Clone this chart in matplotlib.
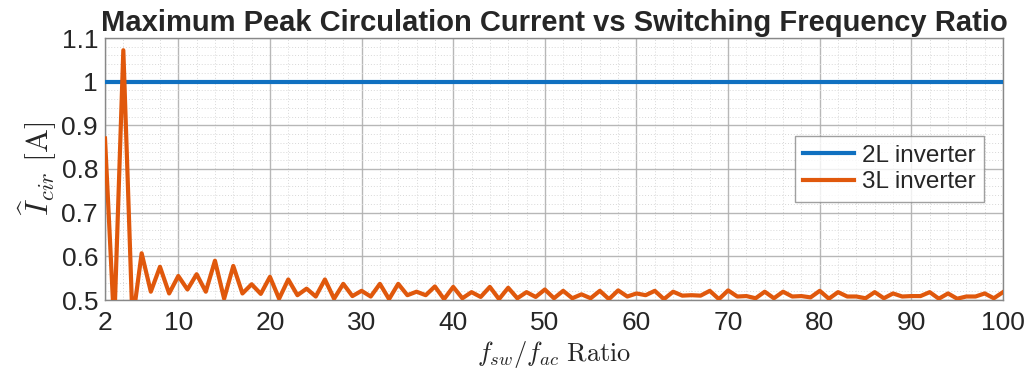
import numpy as np
import matplotlib
matplotlib.use("Agg")
import matplotlib.pyplot as plt
from matplotlib.ticker import MultipleLocator, FixedLocator

# ---- data ----
ratio = np.arange(2, 101)
i_2l = np.full(ratio.shape, 1.0)
i_3l = np.array([
    0.870, 0.440, 1.072, 0.450, 0.607, 0.519, 0.576, 0.515, 0.555, 0.524,   # 2-11
    0.559, 0.519, 0.590, 0.503, 0.578, 0.515, 0.536, 0.514, 0.553, 0.503,   # 12-21
    0.547, 0.511, 0.526, 0.508, 0.547, 0.503, 0.537, 0.509, 0.521, 0.508,   # 22-31
    0.537, 0.502, 0.537, 0.511, 0.519, 0.511, 0.531, 0.502, 0.530, 0.504,   # 32-41
    0.518, 0.507, 0.530, 0.502, 0.528, 0.504, 0.518, 0.507, 0.524, 0.504,   # 42-51
    0.521, 0.504, 0.513, 0.504, 0.521, 0.502, 0.522, 0.508, 0.515, 0.511,   # 52-61
    0.521, 0.502, 0.519, 0.510, 0.511, 0.510, 0.521, 0.502, 0.522, 0.508,   # 62-71
    0.509, 0.504, 0.519, 0.504, 0.519, 0.508, 0.509, 0.506, 0.521, 0.503,   # 72-81
    0.518, 0.508, 0.508, 0.504, 0.518, 0.504, 0.515, 0.508, 0.509, 0.509,   # 82-91
    0.518, 0.503, 0.515, 0.503, 0.508, 0.508, 0.515, 0.504, 0.518,          # 92-100
])
x_ticks = [2, 10, 20, 30, 40, 50, 60, 70, 80, 90, 100]
y_ticks = [0.5, 0.6, 0.7, 0.8, 0.9, 1.0, 1.1]
y_ticklabels = ["0.5", "0.6", "0.7", "0.8", "0.9", "1", "1.1"]

BLUE = "#1070C0"
ORANGE = "#E0580C"
INK = "#262626"

plt.rcParams["font.family"] = ["Liberation Sans", "DejaVu Sans"]
plt.rcParams["mathtext.fontset"] = "cm"

fig = plt.figure(figsize=(10.33, 3.83), dpi=100)
ax = fig.add_axes([105 / 1033, 1 - 300 / 383, 898 / 1033, 262 / 383])

ax.plot(ratio, i_2l, color=BLUE, lw=3.0, label="2L inverter", zorder=3)
ax.plot(ratio, i_3l, color=ORANGE, lw=3.0, label="3L inverter", zorder=3)

ax.set_xlim(2, 100)
ax.set_ylim(0.5, 1.1)
ax.xaxis.set_major_locator(FixedLocator(x_ticks))
ax.xaxis.set_minor_locator(MultipleLocator(2))
ax.set_yticks(y_ticks)
ax.set_yticklabels(y_ticklabels)
ax.yaxis.set_minor_locator(MultipleLocator(0.02))

ax.grid(which="major", color="#b0b0b0", lw=1.0, alpha=0.9)
ax.grid(which="minor", color="#d8d8d8", lw=0.7, ls=(0, (1, 2)))
ax.set_axisbelow(True)
ax.tick_params(which="both", direction="in", length=0)
ax.tick_params(which="major", labelsize=19, colors=INK)
ax.tick_params(axis="x", pad=8)
ax.tick_params(axis="y", pad=5)
for sp in ax.spines.values():
    sp.set_color("#888888")
    sp.set_linewidth(1.0)

ax.set_title("Maximum Peak Circulation Current vs Switching Frequency Ratio",
             fontsize=21, fontweight="bold", color=INK, pad=5)
ax.set_xlabel(r"$f_{sw}/f_{ac}\ \mathrm{Ratio}$", fontsize=19, color=INK,
              labelpad=3)
ax.set_ylabel(r"$\widehat{I}_{cir}\ [\mathrm{A}]$", fontsize=23, color=INK,
              labelpad=2)

leg = ax.legend(loc="center right", bbox_to_anchor=(0.992, 0.5), fontsize=17.5,
                frameon=True, fancybox=False, handlelength=2.1,
                borderpad=0.35, labelspacing=0.2, handletextpad=0.3)
leg.get_frame().set_edgecolor("#888888")
leg.get_frame().set_linewidth(1.0)
for t in leg.get_texts():
    t.set_color(INK)

fig.savefig("out.png", dpi=100, facecolor="white")
